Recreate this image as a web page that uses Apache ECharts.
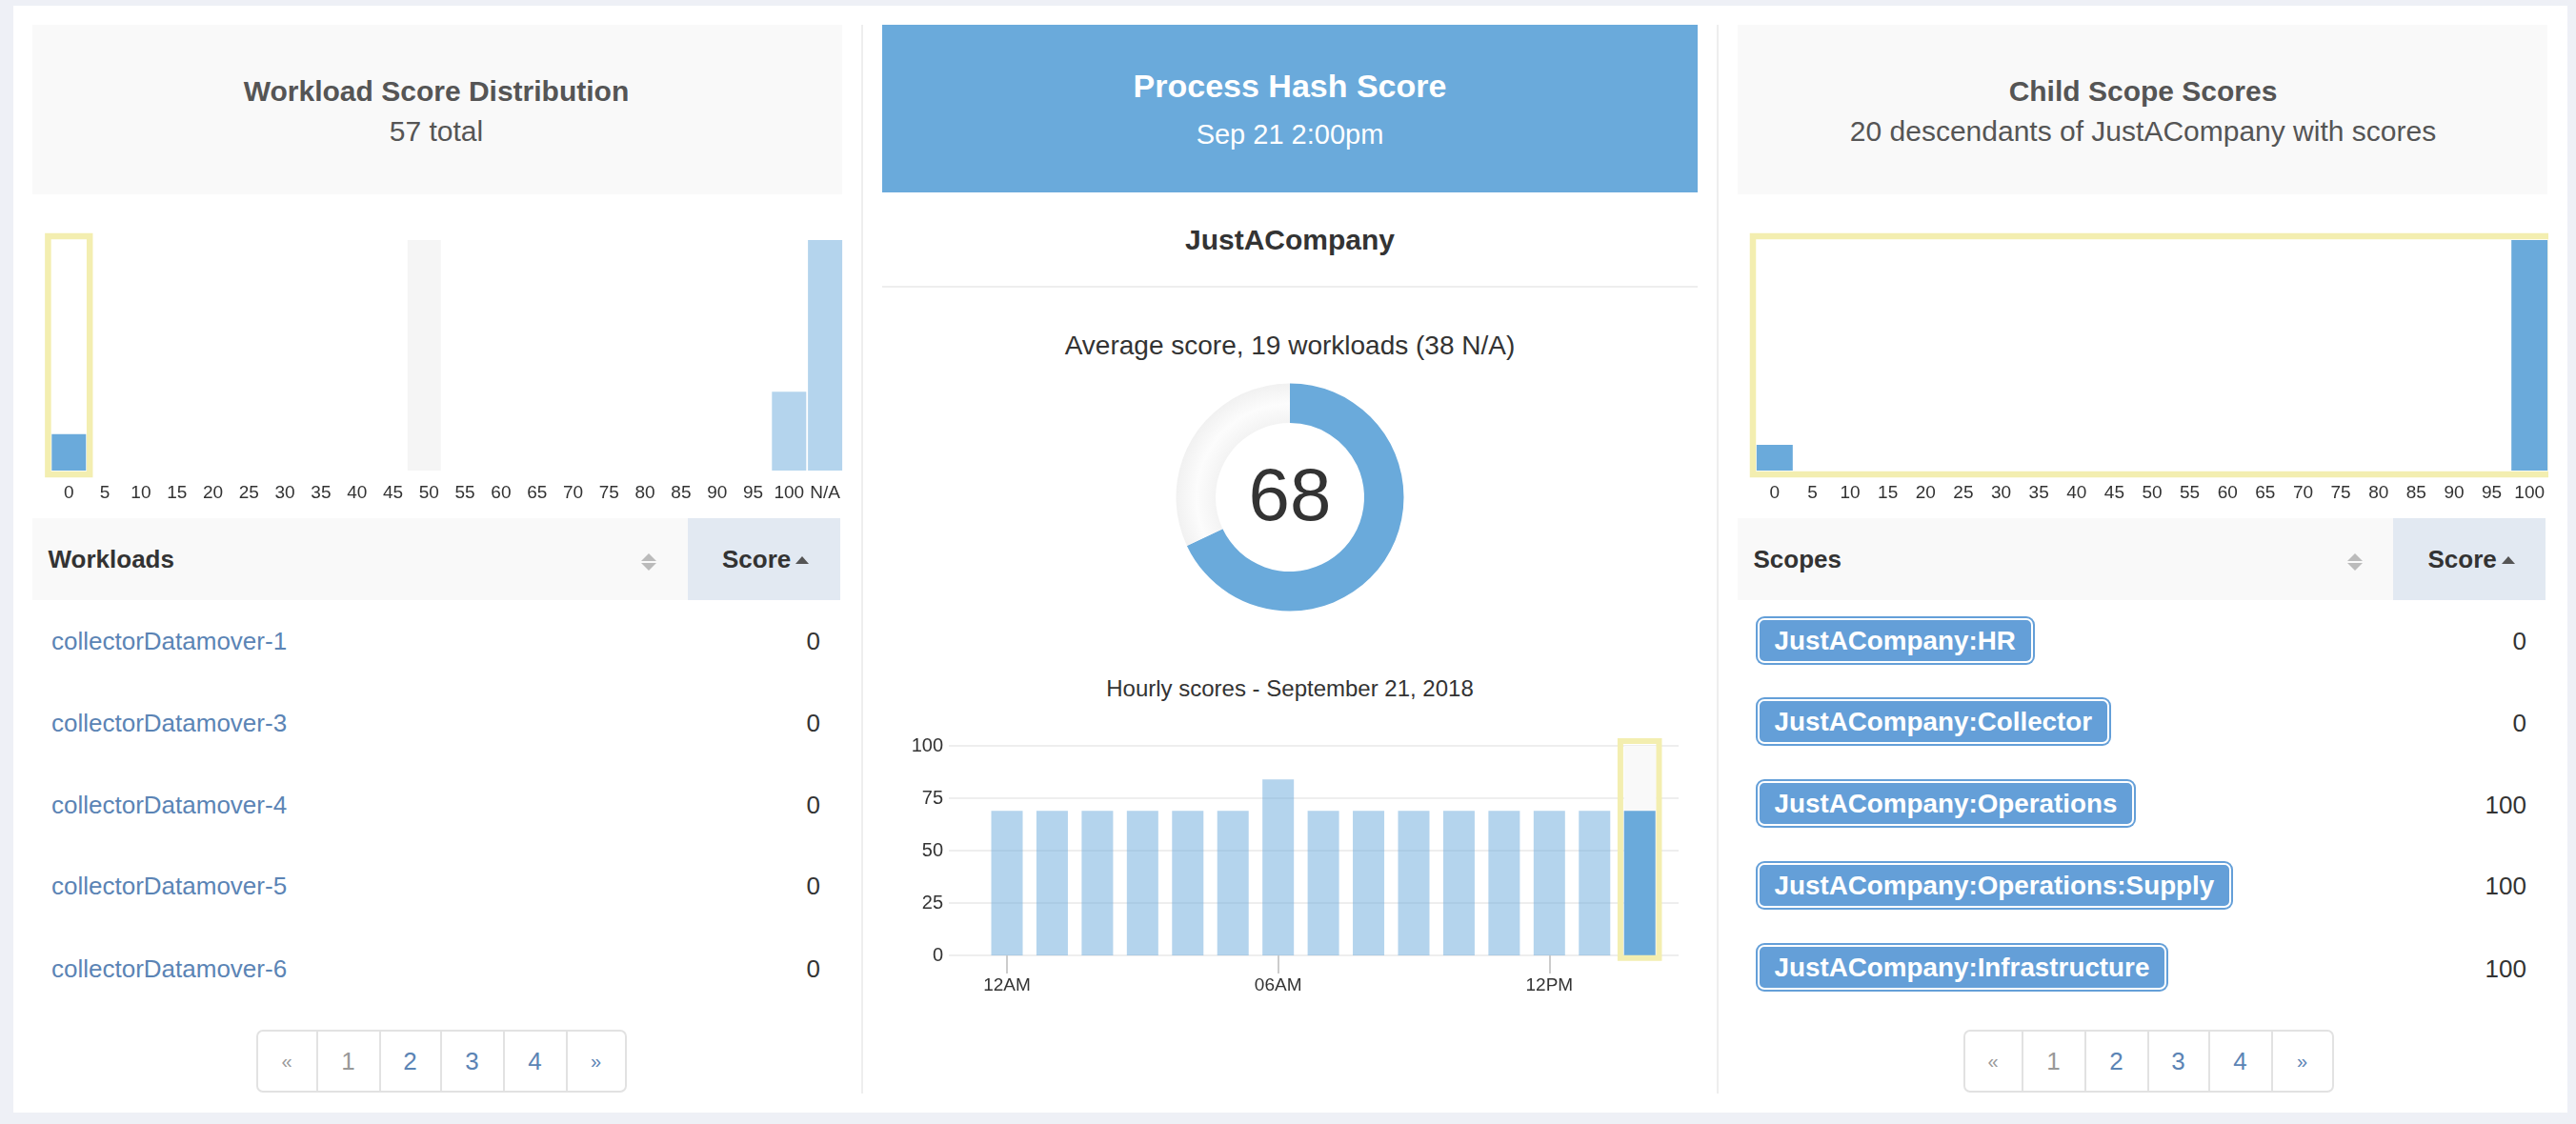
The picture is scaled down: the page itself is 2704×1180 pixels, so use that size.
<!DOCTYPE html>
<html>
<head>
<meta charset="utf-8">
<title>Process Hash Score</title>
<script src="https://cdn.jsdelivr.net/npm/echarts@6/dist/echarts.min.js"></script>
<style>
html, body { margin: 0; padding: 0; width: 2704px; height: 1180px; overflow: hidden; background: #eef0f6; font-family: "Liberation Sans", Arial, sans-serif; color: #333; }
#card { position: absolute; left: 14px; top: 6px; width: 2681px; height: 1162px; background: #fff; }
.box { position: absolute; background: #f9f9f9; }
.txt { position: absolute; line-height: 1; white-space: nowrap; transform: translateY(-50%); }
.ctr { transform: translate(-50%, -50%); }
.end { transform: translate(-100%, -50%); }
.chart { position: absolute; }
.link { color: #5b84b5; }
.badge { position: absolute; height: 47px; line-height: 44px; padding: 0 16px; box-sizing: border-box; background: #649fd8; border: 2px solid #fff; box-shadow: 0 0 0 2px #649fd8; border-radius: 7px; color: #fff; font-weight: bold; font-size: 27.8px; white-space: nowrap; }
.pager { position: absolute; display: flex; height: 66px; box-sizing: border-box; border: 2px solid #e2e2e2; border-radius: 7px; background: #fff; }
.pager div { box-sizing: border-box; border-right: 2px solid #e2e2e2; text-align: center; line-height: 62px; font-size: 26px; color: #5b84b5; }
.pager div:last-child { border-right: 0; }
.pager .off { color: #999; }
.pager .chev { font-size: 20px; }
.up, .down { position: absolute; width: 0; height: 0; border-left: 8px solid transparent; border-right: 8px solid transparent; }
.up { border-bottom: 8px solid #bbb; }
.down { border-top: 8px solid #bbb; }
.sorted { position: absolute; width: 0; height: 0; border-left: 7.5px solid transparent; border-right: 7.5px solid transparent; border-bottom: 8px solid #555; }
</style>
</head>
<body>
<div id="card"></div>
<div id="page"></div>
<div id="workloadHist" class="chart" style="left:40px;top:240px;width:846px;height:300px"></div>
<div id="donut" class="chart" style="left:1204px;top:392px;width:300px;height:260px"></div>
<div id="hourly" class="chart" style="left:950px;top:760px;width:820px;height:300px"></div>
<div id="scopeHist" class="chart" style="left:1830px;top:240px;width:844.5px;height:300px"></div>
<script>
// ---- data ----
const workloadBins = ["0","5","10","15","20","25","30","35","40","45","50","55","60","65","70","75","80","85","90","95","100","N/A"];
const workloadCounts = [6,0,0,0,0,0,0,0,0,0,0,0,0,0,0,0,0,0,0,0,13,38];
const workloadHoverBand = [0,0,0,0,0,0,0,0,0,0,38,0,0,0,0,0,0,0,0,0,0,0];
const scopeBins = ["0","5","10","15","20","25","30","35","40","45","50","55","60","65","70","75","80","85","90","95","100"];
const scopeCounts = [2,0,0,0,0,0,0,0,0,0,0,0,0,0,0,0,0,0,0,0,18];

const averageScore = 68;

const hours = [0,1,2,3,4,5,6,7,8,9,10,11,12,13,14];
const hourlyScores = [69,69,69,69,69,69,84,69,69,69,69,69,69,69,69];
const hourTicks = [0,6,12];
const hourTickLabels = ["12AM","06AM","12PM"];
const selectedHour = 14;

const workloadNames = ["collectorDatamover-1","collectorDatamover-3","collectorDatamover-4","collectorDatamover-5","collectorDatamover-6"];
const workloadScores = [0,0,0,0,0];
const scopeNames = ["JustACompany:HR","JustACompany:Collector","JustACompany:Operations","JustACompany:Operations:Supply","JustACompany:Infrastructure"];
const scopeScores = [0,0,100,100,100];

const BLUE = "#6aaadb";
const LIGHT = "#b4d4ed";
const YELLOW = "#f3eeb0";
const rowY = [673, 758.5, 844.5, 930, 1016.5];

// ---- page furniture ----
const page = document.getElementById("page");
function add(cls, style, text) {
    const el = document.createElement("div");
    el.className = cls;
    el.style.cssText = style;
    if (text !== undefined) el.textContent = text;
    page.appendChild(el);
    return el;
}
function pager(left, widths) {
    const el = add("pager", "left:" + left + "px;top:1081px;width:389px");
    ["\u00ab","1","2","3","4","\u00bb"].forEach((t, i) => {
        const c = document.createElement("div");
        c.textContent = t;
        c.style.width = widths[i] + "px";
        if (i == 0 || i == 5) c.className = "chev off";
        if (i == 1) c.className = "off";
        if (i == 5) c.style.color = "#5b84b5";
        el.appendChild(c);
    });
}
function tableHead(left, scoreLeft, right, name, sortX, scoreX) {
    add("box", "left:" + left + "px;top:544px;width:" + (right - left) + "px;height:86px;background:#f9f9f9");
    add("box", "left:" + scoreLeft + "px;top:544px;width:" + (right - scoreLeft) + "px;height:86px;background:#e2e9f2");
    add("txt", "left:" + (left + 16.5) + "px;top:587px;font-size:26px;font-weight:bold", name);
    add("up", "left:" + (sortX - 8) + "px;top:581px");
    add("down", "left:" + (sortX - 8) + "px;top:591px");
    add("txt", "left:" + scoreX + "px;top:587px;font-size:26px;font-weight:bold", "Score");
    add("sorted", "left:" + (scoreX + 77) + "px;top:584px");
}

// headers
add("box", "left:34px;top:26px;width:850px;height:178px");
add("txt ctr", "left:458px;top:96px;font-size:30px;font-weight:bold;color:#555", "Workload Score Distribution");
add("txt ctr", "left:458px;top:138px;font-size:30px;color:#555", "57 total");

add("box", "left:926px;top:26px;width:856px;height:176px;background:" + BLUE);
add("txt ctr", "left:1354px;top:90px;font-size:34px;font-weight:bold;color:#fff", "Process Hash Score");
add("txt ctr", "left:1354px;top:141px;font-size:29px;color:#fff", "Sep 21 2:00pm");
add("txt ctr", "left:1354px;top:252px;font-size:30px;font-weight:bold", "JustACompany");
add("box", "left:926px;top:300px;width:856px;height:2px;background:#eee");
add("txt ctr", "left:1354px;top:363px;font-size:28px", "Average score, 19 workloads (38 N/A)");
add("txt ctr", "left:1354px;top:723px;font-size:24px", "Hourly scores - September 21, 2018");

add("box", "left:1824px;top:26px;width:850px;height:178px");
add("txt ctr", "left:2249.5px;top:96px;font-size:30px;font-weight:bold;color:#555", "Child Scope Scores");
add("txt ctr", "left:2249.5px;top:138px;font-size:30px;color:#555", "20 descendants of JustACompany with scores");

// column separators
add("box", "left:904px;top:26px;width:2px;height:1122px;background:#eee");
add("box", "left:1802px;top:26px;width:2px;height:1122px;background:#eee");

// tables
tableHead(34, 722, 882, "Workloads", 681, 758);
workloadNames.forEach((n, i) => {
    add("txt link", "left:54px;top:" + rowY[i] + "px;font-size:26px", n);
    add("txt end", "left:861px;top:" + rowY[i] + "px;font-size:26px", workloadScores[i]);
});
tableHead(1824, 2512, 2672, "Scopes", 2471.5, 2548.5);
scopeNames.forEach((n, i) => {
    add("badge", "left:1844.5px;top:" + (rowY[i] - 24.5) + "px", n);
    add("txt end", "left:2652px;top:" + rowY[i] + "px;font-size:26px", scopeScores[i]);
});
pager(268.5, [63, 66, 64, 66, 66, 60]);
pager(2060.5, [61, 66, 66, 64, 66, 62]);

// ---- charts ----
// yellow frame around the selected bins, span is [first index, last index]
function binFrame(span, yTop) {
    return {
        type: "custom",
        silent: true,
        clip: false,
        z: 5,
        data: [span],
        renderItem: function (params, api) {
            const half = api.size([1, 0])[0] / 2 + 3;
            const a = api.coord([api.value(0), yTop]);
            const b = api.coord([api.value(1), 0]);
            return {
                type: "rect",
                shape: { x: a[0] - half, y: a[1] - 4, width: b[0] - a[0] + 2 * half, height: b[1] - a[1] + 8 },
                style: { fill: "none", stroke: YELLOW, lineWidth: 6.5 }
            };
        }
    };
}

// the grey band sits a little left of its bin in the reference
function hoverBand(values) {
    return {
        type: "custom",
        silent: true,
        data: values.map((v, i) => [i, v]),
        renderItem: function (params, api) {
            if (!api.value(1)) return null;
            const a = api.coord([api.value(0), api.value(1)]);
            const b = api.coord([api.value(0), 0]);
            return {
                type: "rect",
                shape: { x: a[0] - 22.5, y: a[1], width: 35, height: b[1] - a[1] },
                style: { fill: "#f5f5f5" }
            };
        }
    };
}

function histOption(bins, counts, band, selected, gridLeft, gridWidth, barWidth, span) {
    const yMax = Math.max.apply(null, counts);
    const series = [];
    if (band) series.push(hoverBand(band));
    series.push({
        type: "bar",
        barWidth: barWidth,
        silent: true,
        itemStyle: { color: p => selected.indexOf(p.name) >= 0 ? BLUE : LIGHT },
        data: counts
    });
    series.push(binFrame(span, yMax));
    return {
        animation: false,
        grid: { left: gridLeft, top: 12, width: gridWidth, height: 242 },
        xAxis: {
            type: "category",
            data: bins,
            axisLine: { show: false },
            axisTick: { show: false },
            axisLabel: { interval: 0, color: "#333", fontSize: 19, fontFamily: "Liberation Sans", margin: 14 }
        },
        yAxis: { type: "value", min: 0, max: yMax, show: false },
        series: series
    };
}

echarts.init(document.getElementById("workloadHist")).setOption(
    histOption(workloadBins, workloadCounts, workloadHoverBand, ["0"], 13.4, 831.6, 36, [0, 0])
);
echarts.init(document.getElementById("scopeHist")).setOption(
    histOption(scopeBins, scopeCounts, null, scopeBins, 13, 832.8, 38, [0, 20])
);

echarts.init(document.getElementById("donut")).setOption({
    animation: false,
    title: {
        text: "" + averageScore,
        left: "center",
        top: 93,
        padding: 0,
        textStyle: { fontSize: 78, fontWeight: "normal", color: "#333", fontFamily: "Liberation Sans" }
    },
    series: [{
        type: "pie",
        silent: true,
        center: [150, 130],
        radius: [78, 119.5],
        startAngle: 90,
        clockwise: true,
        label: { show: false },
        labelLine: { show: false },
        data: [
            { value: averageScore, itemStyle: { color: BLUE } },
            { value: 100 - averageScore, itemStyle: { color: {
                type: "radial", x: 150, y: 130, r: 119.5, global: true,
                colorStops: [
                    { offset: 0.65, color: "#f3f3f3" },
                    { offset: 0.82, color: "#fcfcfc" },
                    { offset: 1, color: "#f1f1f1" }
                ]
            } } }
        ]
    }]
});

echarts.init(document.getElementById("hourly")).setOption({
    animation: false,
    grid: { left: 46, top: 23, width: 766, height: 220 },
    xAxis: {
        type: "value",
        min: -1.286,
        max: 14.86,
        splitLine: { show: false },
        axisLine: { show: false },
        axisTick: { show: true, customValues: hourTicks, length: 19, lineStyle: { color: "#ccc", width: 2 } },
        axisLabel: {
            customValues: hourTicks,
            formatter: v => hourTickLabels[hourTicks.indexOf(v)],
            color: "#333", fontSize: 19, fontFamily: "Liberation Sans", margin: 22
        }
    },
    yAxis: {
        type: "value",
        min: 0,
        max: 100,
        interval: 25,
        axisLine: { show: false },
        axisTick: { show: false },
        splitLine: { lineStyle: { color: "#eee", width: 2 } },
        axisLabel: { color: "#333", fontSize: 20, fontFamily: "Liberation Sans", margin: 6 }
    },
    series: [
        { type: "bar", barWidth: 34, barGap: "-100%", silent: true, itemStyle: { color: "#f9f9f9" },
          data: [[selectedHour, 100]] },
        { type: "bar", barWidth: 33, barGap: "-100%", silent: true,
          itemStyle: { color: p => p.value[0] === selectedHour ? BLUE : "rgba(106,170,219,0.5)" },
          data: hours.map((h, i) => [h, hourlyScores[i]]) },
        {
            type: "custom",
            silent: true,
            clip: false,
            z: 5,
            data: [[selectedHour, 100]],
            renderItem: function (params, api) {
                const a = api.coord([api.value(0), 100]);
                const b = api.coord([api.value(0), 0]);
                return {
                    type: "rect",
                    shape: { x: a[0] - 20.3, y: a[1] - 5, width: 40.6, height: b[1] - a[1] + 7.7 },
                    style: { fill: "none", stroke: YELLOW, lineWidth: 6 }
                };
            }
        }
    ]
});
</script>
</body>
</html>
